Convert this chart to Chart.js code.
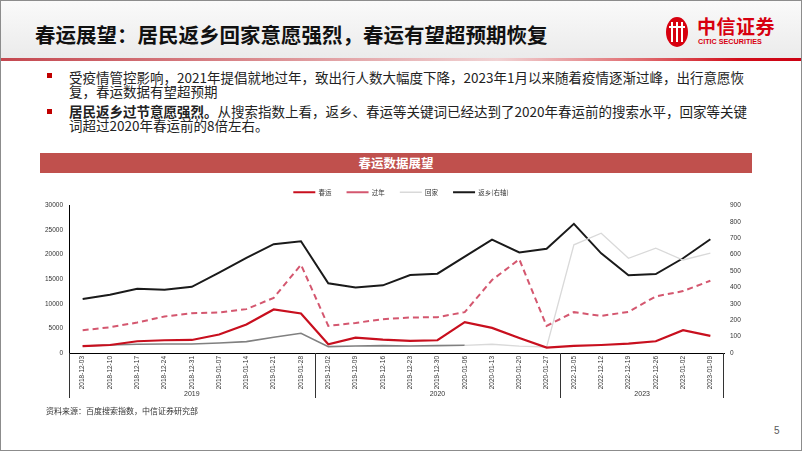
<!DOCTYPE html>
<html lang="zh-CN">
<head>
<meta charset="utf-8">
<title>春运展望</title>
<script src="https://cdn.jsdelivr.net/npm/chart.js@4.4.1/dist/chart.umd.min.js"></script>
<style>
  html, body { margin: 0; padding: 0; background: #fff; }
  body { width: 802px; height: 451px; position: relative; overflow: hidden;
         font-family: "Noto Sans CJK SC", "Liberation Sans", sans-serif; }
  .frame { position: absolute; left: 0; top: 0; width: 800px; height: 449px; border: 1px solid #8c8c8c; z-index: 5; pointer-events: none; }
  .header { position: absolute; left: 0; top: 0; width: 802px; height: 58px; background: linear-gradient(#fafafa, #ebebeb); }
  .rule { position: absolute; left: 0; top: 58px; width: 802px; height: 3px;
          background: linear-gradient(to right, #c4474f 0%, #d9878b 30%, #f1d3d4 62%, #e06c70 80%, #d10f1b 92%, #cc0012 100%); }
  .title { position: absolute; left: 35px; top: 20px; font-size: 20.5px; font-weight: 700; line-height: 28px; color: #111; white-space: nowrap; }
  .logo { position: absolute; left: 666px; top: 17px; width: 22px; height: 30px; border-radius: 50%; background: #d7000f; overflow: hidden; }
  .logo i { position: absolute; top: 5px; width: 2px; height: 20px; background: #fff; }
  .logo b { position: absolute; left: 3px; top: 9px; width: 16px; height: 2px; background: #fff; }
  .brand { position: absolute; left: 697px; top: 14px; font-size: 19px; font-weight: 700; color: #d7000f; line-height: 24px; white-space: nowrap; letter-spacing: 0.5px; }
  .brand-en { position: absolute; left: 698px; top: 38px; font-family: "Liberation Sans", Arial, sans-serif; font-size: 7.2px; font-weight: 700; color: #d7000f; white-space: nowrap; line-height: 8px; }
  .sq { position: absolute; left: 47px; width: 5px; height: 5px; background: #c00000; }
  .para { position: absolute; left: 69px; font-size: 13.5px; line-height: 14px; color: #222; white-space: nowrap; }
  .band { position: absolute; left: 40px; top: 153px; width: 712px; height: 20px; background: #c0504d; color: #fff;
          font-size: 12.5px; font-weight: 700; line-height: 20px; text-align: center; }
  #chart { position: absolute; left: 0; top: 170px; }
  .source { position: absolute; left: 46px; top: 405px; font-size: 8px; line-height: 12px; color: #333; white-space: nowrap; }
  .pageno { position: absolute; left: 774px; top: 425px; font-family: "Liberation Sans", Arial, sans-serif; font-size: 10px; color: #595959; }
</style>
</head>
<body>
<div class="header"></div>
<div class="rule"></div>
<div class="title">春运展望：居民返乡回家意愿强烈，春运有望超预期恢复</div>
<div class="logo"><i style="left:5px"></i><i style="left:10px"></i><i style="left:15px"></i><b></b></div>
<div class="brand">中信证券</div>
<div class="brand-en">CITIC SECURITIES</div>

<div class="sq" style="top:73px"></div>
<div class="para" style="top:70px">受疫情管控影响，2021年提倡就地过年，致出行人数大幅度下降，2023年1月以来随着疫情逐渐过峰，出行意愿恢<br>复，春运数据有望超预期</div>
<div class="sq" style="top:109px"></div>
<div class="para" style="top:104px"><b>居民返乡过节意愿强烈。</b>从搜索指数上看，返乡、春运等关键词已经达到了2020年春运前的搜索水平，回家等关键<br>词超过2020年春运前的8倍左右。</div>

<div class="band">春运数据展望</div>
<canvas id="chart" width="802" height="238"></canvas>
<div class="source">资料来源：百度搜索指数，中信证券研究部</div>
<div class="pageno">5</div>
<div class="frame"></div>

<script>
// 百度搜索指数：三个年度的春运前周度数据
const CATEGORIES = [
  "2018-12-03", "2018-12-10", "2018-12-17", "2018-12-24", "2018-12-31", "2019-01-07", "2019-01-14", "2019-01-21", "2019-01-28",
  "2019-12-02", "2019-12-09", "2019-12-16", "2019-12-23", "2019-12-30", "2020-01-06", "2020-01-13", "2020-01-20", "2020-01-27",
  "2022-12-05", "2022-12-12", "2022-12-19", "2022-12-26", "2023-01-02", "2023-01-09",
];
const GROUP_LABELS = ["2019", "2020", "2023"];
const GROUP_SIZES = [9, 9, 6];

const CHUNYUN = [1400, 1630, 2390, 2590, 2650, 3750, 5790, 8850, 8040,
  1780, 3140, 2730, 2450, 2590, 6270, 5100, 3060, 1100,
  1430, 1630, 1920, 2390, 4630, 3470];
const GUONIAN = [4630, 5240, 6200, 7430, 8100, 8240, 8920, 11220, 17960,
  5510, 6120, 6880, 7220, 7290, 8310, 14840, 19060, 5510,
  8310, 7550, 8370, 11510, 12590, 14700];
const HUIJIA = [1430, 1630, 1780, 1840, 1840, 2040, 2320, 3200, 4020,
  1300, 1430, 1500, 1430, 1500, 1570, 1780, 1400, 1220,
  22000, 24370, 19270, 21310, 18920, 20290];
const FANXIANG = [330, 355, 392, 386, 404, 490, 580, 664, 682,
  425, 400, 413, 476, 484, 588, 692, 614, 636,
  788, 608, 474, 482, 578, 694]; // 右轴

const LEFT_AXIS = { min: 0, max: 30000, step: 5000 };
const RIGHT_AXIS = { min: 0, max: 900, step: 100 };

const FONT = '"Liberation Sans", "Noto Sans CJK SC", sans-serif';
const INK = "#333";
const TICK_FONT = { size: 6.5, family: FONT };

// 分组的年份标签和竖向分隔线（Excel 多级分类轴的样子）
const groupAxis = {
  id: "groupAxis",
  afterDraw(chart) {
    const { ctx, chartArea, scales: { x } } = chart;
    const n = CATEGORIES.length;
    const edge = i => i <= 0 ? chartArea.left
      : i >= n ? chartArea.right
      : (x.getPixelForValue(i - 1) + x.getPixelForValue(i)) / 2;
    const top = chartArea.bottom, depth = 45;
    ctx.save();
    ctx.strokeStyle = INK;
    ctx.lineWidth = 1;
    ctx.fillStyle = INK;
    ctx.font = "7px " + FONT;
    ctx.textAlign = "center";
    ctx.textBaseline = "middle";
    let start = 0;
    GROUP_SIZES.forEach((size, g) => {
      const x0 = edge(start), x1 = edge(start + size);
      const px = Math.round(x0) + 0.5;
      ctx.beginPath(); ctx.moveTo(px, top); ctx.lineTo(px, top + depth); ctx.stroke();
      ctx.fillText(GROUP_LABELS[g], (x0 + x1) / 2, top + 41);
      start += size;
    });
    const pr = Math.round(chartArea.right) - 0.5;
    ctx.beginPath(); ctx.moveTo(pr, top); ctx.lineTo(pr, top + depth); ctx.stroke();
    ctx.restore();
  },
};

const line = (label, data, color, extra) => Object.assign({
  label, data, borderColor: color, backgroundColor: color,
  borderWidth: 2, pointRadius: 0, tension: 0, fill: false, yAxisID: "y",
}, extra);

new Chart(document.getElementById("chart"), {
  type: "line",
  data: {
    labels: CATEGORIES,
    datasets: [
      line("春运", CHUNYUN, "#c80f1e", { borderWidth: 2.2 }),
      line("过年", GUONIAN, "#d4576f", { borderDash: [6, 4] }),
      line("回家", HUIJIA, "#d9d9d9", {
        borderWidth: 1.3,
        segment: {
          borderColor: c => c.p0DataIndex < 14 ? "#808080" : undefined,
          borderWidth: c => c.p0DataIndex < 14 ? 1.6 : undefined,
        },
      }),
      line("返乡(右轴)", FANXIANG, "#1a1a1a", { yAxisID: "y1" }),
    ],
  },
  options: {
    responsive: false,
    animation: false,
    layout: { padding: { top: 4, left: 0, right: 0, bottom: 0 } },
    plugins: {
      tooltip: { enabled: false },
      legend: {
        position: "top",
        labels: {
          usePointStyle: true, pointStyle: "line", pointStyleWidth: 22,
          boxHeight: 7, padding: 15, color: INK,
          font: { size: 6.5, family: '"Noto Sans CJK SC", "Liberation Sans", sans-serif' },
        },
      },
    },
    scales: {
      x: {
        offset: true,
        grid: { display: false, drawTicks: false },
        border: { display: true, color: "#000", width: 1 },
        ticks: { autoSkip: false, minRotation: 90, maxRotation: 90, padding: 3, color: INK, font: TICK_FONT },
        afterFit(s) { s.height = 55; },
      },
      y: {
        position: "left",
        min: LEFT_AXIS.min, max: LEFT_AXIS.max,
        grid: { display: false, drawTicks: false },
        border: { display: true, color: "#000", width: 1 },
        ticks: { stepSize: LEFT_AXIS.step, padding: 6, color: INK, font: TICK_FONT, callback: v => String(v) },
        afterFit(s) { s.width = 69; },
      },
      y1: {
        position: "right",
        min: RIGHT_AXIS.min, max: RIGHT_AXIS.max,
        grid: { display: false, drawTicks: false },
        border: { display: false },
        ticks: { stepSize: RIGHT_AXIS.step, padding: 6, color: INK, font: TICK_FONT, callback: v => String(v) },
        afterFit(s) { s.width = 78; },
      },
    },
  },
  plugins: [groupAxis],
});
</script>
</body>
</html>
